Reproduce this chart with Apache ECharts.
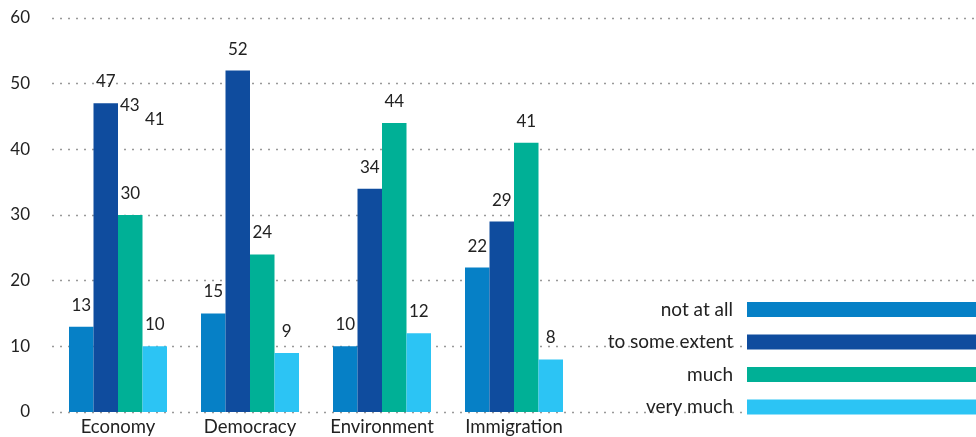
<!DOCTYPE html>
<html>
<head>
<meta charset="utf-8">
<script src="https://cdn.jsdelivr.net/npm/echarts@6/dist/echarts.min.js"></script>
<style>
  html, body { margin: 0; padding: 0; background: #fff; }
  #chart { width: 976px; height: 437px; }
</style>
</head>
<body>
<div id="chart"></div>
<script>
// categories (the last three slots stay empty, the legend sits there)
var categories = ['Economy', 'Democracy', 'Environment', 'Immigration', '', '', ''];
var seriesNames = ['not at all', 'to some extent', 'much', 'very much'];
var notAtAll = [13, 15, 10, 22];
var toSomeExtent = [47, 52, 34, 29];
var much = [30, 24, 44, 41];
var veryMuch = [10, 9, 12, 8];
var yTicks = [0, 10, 20, 30, 40, 50, 60];
// stray labels printed next to the Economy group
var strayLabels = ['43', '41'];

var colors = ['#0680c6', '#0f4c9e', '#00b096', '#2cc4f4'];
var font = 'Lato, "Open Sans", sans-serif';

var chart = echarts.init(document.getElementById('chart'));

function bar(name, values, color) {
  return {
    name: name,
    type: 'bar',
    data: values,
    barWidth: 24.5,
    barGap: '0%',
    itemStyle: { color: color },
    label: {
      show: true,
      position: 'top',
      distance: 13,
      color: '#222',
      fontSize: 17,
      fontFamily: font
    }
  };
}

chart.setOption({
  animation: false,
  color: colors,
  grid: { left: 52, right: 0, top: 18, bottom: 25 },
  xAxis: {
    type: 'category',
    data: categories,
    axisLine: { show: false },
    axisTick: { show: false },
    axisLabel: { interval: 0, color: '#222', fontSize: 18.5, fontFamily: font, margin: 6 }
  },
  yAxis: {
    type: 'value',
    min: yTicks[0],
    max: yTicks[yTicks.length - 1],
    interval: 10,
    axisLine: { show: false },
    axisTick: { show: false },
    axisLabel: { color: '#222', fontSize: 17, fontFamily: font, margin: 22 },
    splitLine: { lineStyle: { type: [2, 6], color: '#999', width: 1.3 } }
  },
  legend: {
    orient: 'vertical',
    right: 0,
    top: 300,
    padding: 0,
    align: 'right',
    icon: 'rect',
    itemWidth: 229,
    itemHeight: 15,
    itemGap: 13.5,
    data: seriesNames,
    itemStyle: { borderWidth: 0 },
    textStyle: { color: '#222', fontSize: 19, fontFamily: font, padding: [0, 9, 0, 0] }
  },
  graphic: [
    { type: 'text', left: 120, top: 97, style: { text: strayLabels[0], fontSize: 17, fontFamily: font, fill: '#222' } },
    { type: 'text', left: 145, top: 111, style: { text: strayLabels[1], fontSize: 17, fontFamily: font, fill: '#222' } }
  ],
  series: [
    bar(seriesNames[0], notAtAll, colors[0]),
    bar(seriesNames[1], toSomeExtent, colors[1]),
    bar(seriesNames[2], much, colors[2]),
    bar(seriesNames[3], veryMuch, colors[3])
  ]
});
</script>
</body>
</html>
